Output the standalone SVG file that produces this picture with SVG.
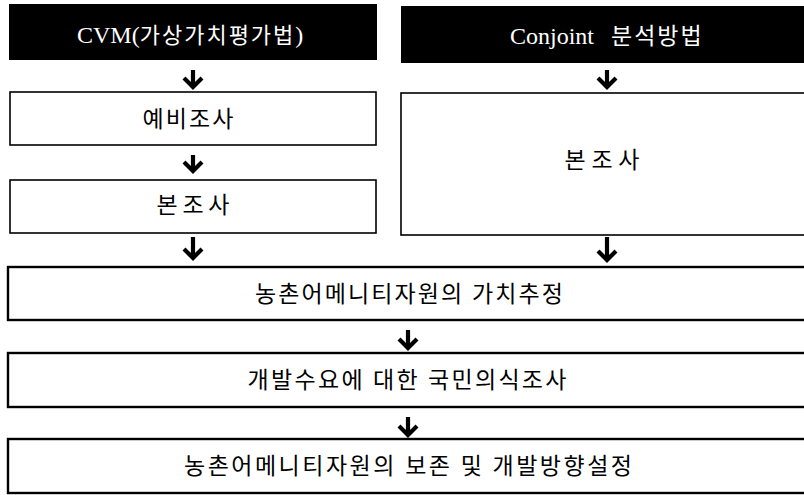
<svg xmlns="http://www.w3.org/2000/svg" width="804" height="495" viewBox="0 0 804 495">
<style>
.dark{fill:#000;stroke:none}
.box{fill:#fff;stroke:#000;stroke-width:1.6}
.wide{fill:#fff;stroke:#000;stroke-width:2.4}
.th{font-family:"Liberation Serif","Noto Sans CJK KR",serif;font-size:24px;fill:#fff}
.tx{font-family:"Liberation Serif","Noto Sans CJK KR",serif;font-size:23px;fill:#000;text-anchor:middle}
.arr{fill:none;stroke:#000;stroke-width:4.2;stroke-linejoin:miter;stroke-linecap:butt}
</style>
<rect width="804" height="495" fill="#fff"/>
<g id="cvm">
<rect class="dark" x="9" y="4" width="368" height="56"/>
<text class="th" x="77" y="43">CVM(<tspan font-size="22" letter-spacing="2">가상가치평가법</tspan>)</text>
</g>
<g id="conjoint">
<rect class="dark" x="401" y="6" width="410" height="57"/>
<text class="th" x="510" y="44">Conjoint<tspan x="611" font-size="23" letter-spacing="2">분석방법</tspan></text>
</g>
<g id="prelim">
<rect class="box" x="10" y="92" width="366" height="53"/>
<text class="tx" x="188" y="127" textLength="91" lengthAdjust="spacing">예비조사</text>
</g>
<g id="main-left">
<rect class="box" x="10" y="180" width="366" height="53"/>
<text class="tx" x="193" y="213" textLength="73" lengthAdjust="spacing">본조사</text>
</g>
<g id="main-right">
<rect class="box" x="401" y="93" width="410" height="142"/>
<text class="tx" x="602" y="168" textLength="75" lengthAdjust="spacing">본조사</text>
</g>
<g id="value">
<rect class="wide" x="8" y="267" width="802" height="53"/>
<text class="tx" x="409" y="302" textLength="308" lengthAdjust="spacing">농촌어메니티자원의 가치추정</text>
</g>
<g id="survey">
<rect class="wide" x="8" y="353" width="802" height="54"/>
<text class="tx" x="407" y="388" textLength="319" lengthAdjust="spacing">개발수요에 대한 국민의식조사</text>
</g>
<g id="direction">
<rect class="wide" x="8" y="439" width="802" height="54"/>
<text class="tx" x="408" y="474" textLength="448" lengthAdjust="spacing">농촌어메니티자원의 보존 및 개발방향설정</text>
</g>
<g id="connectors">
<path class="arr" d="M193 70V87M184 78L193 87L202 78"/>
<path class="arr" d="M193 155V171M184 162L193 171L202 162"/>
<path class="arr" d="M193 237V258M184 249L193 258L202 249"/>
<path class="arr" d="M607 70V87M598 78L607 87L616 78"/>
<path class="arr" d="M607 237V260M598 251L607 260L616 251"/>
<path class="arr" d="M408 330V348M399 339L408 348L417 339"/>
<path class="arr" d="M408 417V435M399 426L408 435L417 426"/>
</g>
</svg>
